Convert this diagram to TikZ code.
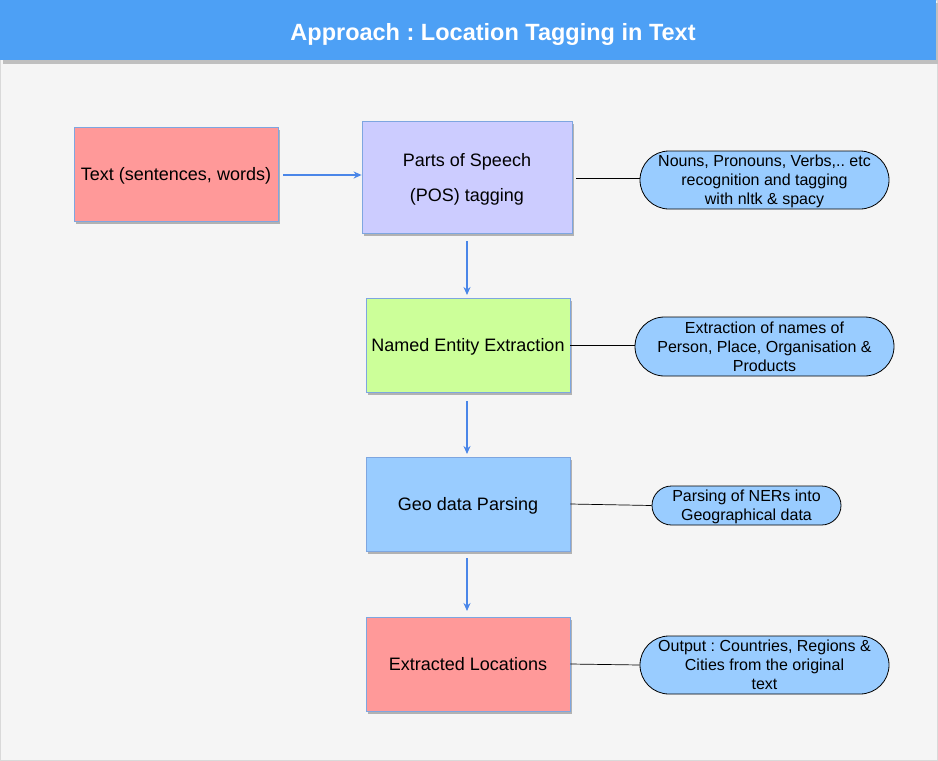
\documentclass[tikz,border=0pt]{standalone}
\usepackage{fontspec}
\setmainfont{Liberation Sans}
\frenchspacing
\usetikzlibrary{shapes.misc,arrows.meta,shadows}
\definecolor{bgc}{HTML}{F5F5F5}
\definecolor{hdr}{HTML}{4DA0F5}
\definecolor{bord}{HTML}{7EA6E0}
\definecolor{redf}{HTML}{FF9999}
\definecolor{purf}{HTML}{CCCCFF}
\definecolor{grnf}{HTML}{CCFF99}
\definecolor{bluf}{HTML}{99CCFF}
\definecolor{arr}{HTML}{4A86E8}
\tikzset{
  stepbox/.style={draw=bord, line width=0.8pt, inner sep=0pt, text depth=0pt, font=\fontsize{18}{21}\selectfont,
    drop shadow={shadow xshift=2pt, shadow yshift=-3pt, fill=black!30, opacity=1}},
  pill/.style={rounded rectangle, draw=black, line width=0.8pt, fill=bluf, inner sep=0pt, text depth=0pt,
    align=center, font=\fontsize{16}{19}\selectfont},
  flow/.style={draw=arr, line width=1.3pt, -{Stealth[length=8pt,width=7pt]}},
  link/.style={draw=black, line width=0.7pt},
}
\begin{document}
\begin{tikzpicture}[x=1pt,y=-1pt]
\useasboundingbox (0,0) rectangle (938,761);
\fill[bgc] (0,0) rectangle (938,761);
\draw[black!15, line width=0.6pt] (0.5,0.5) rectangle (937.5,760.5);
% header
\fill[black!25] (3,3) rectangle (938,64);
\node[fill=hdr, minimum width=936pt, minimum height=60pt, inner sep=0pt, anchor=north west] (title) at (0,0) {};
\node[text=white, text depth=0pt, font=\bfseries\fontsize{23.5}{26}\selectfont] (titletext) at (493,32) {Approach : Location Tagging in Text};
% boxes
\node[stepbox, fill=redf, minimum width=204pt, minimum height=94pt] (txt) at (176,174) {Text (sentences, words)};
\node[stepbox, fill=purf, minimum width=210pt, minimum height=112pt, align=center, font=\fontsize{18}{35}\selectfont] (pos) at (467,177) {Parts of Speech\\(POS) tagging};
\node[stepbox, fill=grnf, minimum width=204pt, minimum height=94pt] (ner) at (468,345) {Named Entity Extraction};
\node[stepbox, fill=bluf, minimum width=204pt, minimum height=94pt] (geo) at (468,504) {Geo data Parsing};
\node[stepbox, fill=redf, minimum width=204pt, minimum height=94pt] (loc) at (468,664) {Extracted Locations};
% pills
\node[pill, minimum width=249pt, minimum height=58pt] (p1) at (764.5,180) {Nouns, Pronouns, Verbs,.. etc\\recognition and tagging\\with nltk \& spacy};
\node[pill, minimum width=259pt, minimum height=59pt] (p2) at (764.5,346.5) {Extraction of names of\\Person, Place, Organisation \&\\Products};
\node[pill, minimum width=189pt, minimum height=39pt] (p3) at (746.5,505.5) {Parsing of NERs into\\Geographical data};
\node[pill, minimum width=249pt, minimum height=58pt] (p4) at (764.5,665) {Output : Countries, Regions \&\\Cities from the original\\text};
% connectors
\coordinate (a1s) at (283,175);
\draw[flow] (a1s) -- (pos.west |- a1s);
\coordinate (a2s) at (467,241);
\coordinate (a2e) at (467,295);
\draw[flow] (a2s) -- (a2e);
\coordinate (a3s) at (467,401);
\coordinate (a3e) at (467,454);
\draw[flow] (a3s) -- (a3e);
\coordinate (a4s) at (467,558);
\coordinate (a4e) at (467,611);
\draw[flow] (a4s) -- (a4e);
\coordinate (l1) at (576,178);
\draw[link] (l1) -- (p1.west |- l1);
\draw[link] (ner.east) -- (p2.west |- ner.east);
\draw[link] (geo.east) -- (p3.west);
\draw[link] (loc.east) -- (p4.west);
\end{tikzpicture}
\end{document}
